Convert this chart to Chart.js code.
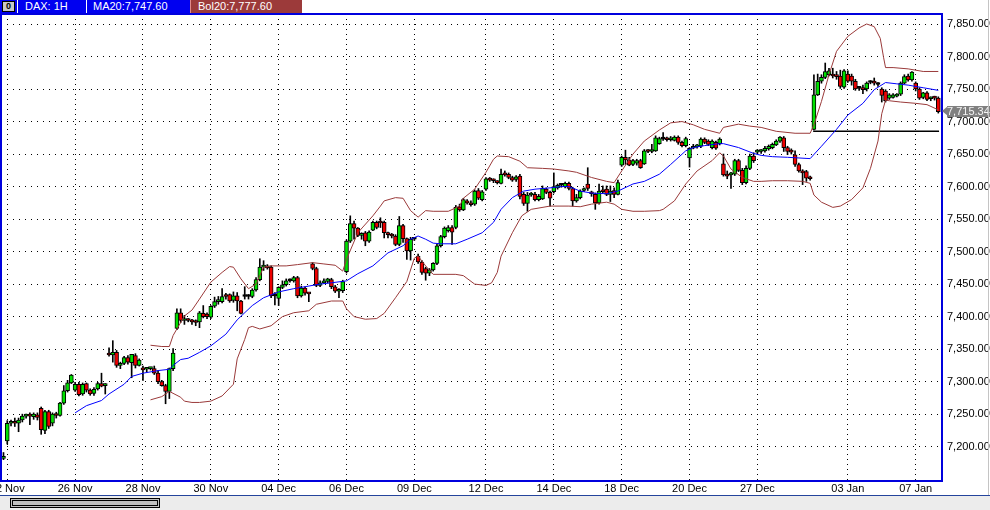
<!DOCTYPE html>
<html lang="en">
<head>
<meta charset="UTF-8">
<title>DAX 1H</title>
<script src="https://cdn.jsdelivr.net/npm/chart.js"></script>
<style>
  body { margin: 0; background: #fff; }
  * { font-family: 'Liberation Sans', Arial, sans-serif; }
  #wrap { position: relative; width: 990px; height: 510px; overflow: hidden; background: #fff; }
  #chart { position: absolute; left: 0; top: 0; }
  .hdr { position: absolute; top: 0; height: 13px; line-height: 13px; font-size: 11px; color: #fff; white-space: nowrap; }
  #bar { left: 0; width: 190px; background: #0000f0; }
  .sep { position: absolute; top: 0; width: 1px; height: 13px; background: #fff; }
  #btn { position: absolute; left: 2px; top: 1px; width: 11px; height: 9px; background: #c8c8c8; border: 1px solid #000;
         color: #000; font-size: 9px; line-height: 9px; text-align: center; font-weight: bold; }
  #bol { left: 190px; width: 104px; padding-left: 7px; background: #9c3a3a; border-left: 1px solid #e08a8a; }
  #tag { position: absolute; left: 947px; top: 106px; width: 43px; height: 11px; background: #808080; color: #f4f4f4;
         font-size: 11px; line-height: 11px; }
  #tagArrow { position: absolute; left: 942px; top: 106px; width: 0; height: 0; border-top: 5.5px solid transparent;
              border-bottom: 5.5px solid transparent; border-right: 6px solid #808080; }
  #foot { position: absolute; left: 0; top: 495px; width: 990px; height: 15px; background: #ececec; border-top: 1px solid #24449c; }
  #thumb { position: absolute; left: 10px; top: 2px; width: 144px; height: 4px; background: #c0c0c0; border: 3px double #000; }
  #edge { position: absolute; left: 988px; top: 0; width: 1px; height: 495px; background: #c4c4c4; }
</style>
</head>
<body>
<div id="wrap">
  <canvas id="chart" width="990" height="510"></canvas>
  <div class="hdr" id="bar">
    <div id="btn">0</div>
    <div class="sep" style="left:17px"></div>
    <span style="position:absolute;left:25px">DAX: 1H</span>
    <div class="sep" style="left:86px"></div>
    <span style="position:absolute;left:93px">MA20:7,747.60</span>
  </div>
  <div class="hdr" id="bol">Bol20:7,777.60</div>
  <div id="tagArrow"></div>
  <div id="tag">7,715.34</div>
  <div id="edge"></div>
  <div id="foot"><div id="thumb"></div></div>
</div>

<script>
// hourly bars, one per index
const opens = [
  7182,7209,7236,7237,7236,7241,7247,7248,7246,7249,
  7259,7225,7254,7236,7249,7248,7267,7286,7298,7287,
  7296,7281,7297,7287,7282,7289,7297,7294,7344,7341,
  7345,7325,7328,7337,7329,7340,7325,7320,7319,7320,
  7320,7313,7300,7294,7285,7320,7382,7406,7394,7395,
  7394,7392,7392,7405,7404,7399,7416,7423,7423,7433,
  7434,7425,7432,7424,7431,7431,7431,7441,7457,7476,
  7478,7476,7432,7428,7445,7449,7455,7455,7460,7432,
  7444,7436,7481,7474,7448,7452,7454,7457,7446,7439,
  7440,7469,7516,7543,7536,7525,7529,7516,7533,7545,
  7545,7545,7529,7526,7524,7511,7540,7520,7501,7519,
  7493,7484,7474,7467,7472,7482,7509,7523,7532,7537,
  7537,7569,7564,7576,7575,7573,7594,7580,7596,7612,
  7610,7607,7605,7619,7619,7614,7611,7616,7588,7574,
  7587,7588,7580,7581,7596,7591,7592,7598,7602,7600,
  7605,7597,7578,7583,7594,7604,7591,7588,7575,7593,
  7596,7588,7594,7588,7633,7645,7641,7634,7636,7640,
  7635,7655,7654,7655,7666,7673,7673,7672,7671,7676,
  7668,7663,7644,7659,7661,7662,7673,7670,7660,7668,
  7666,7635,7619,7618,7619,7640,7625,7606,7628,7647,
  7653,7654,7655,7658,7660,7664,7670,7675,7660,7655,
  7649,7634,7624,7623,7614,7688,7741,7762,7768,7772,
  7773,7770,7770,7753,7773,7770,7762,7751,7752,7750,
  7760,7760,7757,7750,7747,7736,7737,7739,7742,7759,
  7770,7764,7759,7750,7737,7744,7735,7737,7736
];
const highs = [
  7191,7240,7241,7244,7244,7250,7250,7252,7252,7252,
  7261,7256,7256,7252,7253,7268,7294,7302,7311,7299,
  7299,7298,7298,7289,7291,7299,7313,7297,7352,7363,
  7348,7330,7339,7340,7342,7343,7335,7324,7322,7322,
  7324,7317,7302,7296,7321,7351,7412,7412,7402,7397,
  7396,7395,7408,7417,7406,7417,7430,7431,7443,7436,
  7435,7438,7437,7425,7446,7434,7443,7460,7489,7486,
  7480,7478,7437,7446,7455,7458,7458,7462,7462,7447,
  7446,7437,7483,7476,7455,7458,7459,7459,7448,7443,
  7456,7518,7555,7547,7537,7529,7531,7532,7547,7547,
  7552,7547,7530,7528,7526,7554,7542,7521,7522,7520,
  7496,7486,7476,7474,7483,7511,7525,7538,7540,7540,
  7571,7573,7582,7580,7578,7595,7597,7594,7614,7614,
  7612,7609,7627,7624,7621,7616,7617,7619,7591,7591,
  7591,7591,7588,7601,7598,7593,7621,7604,7605,7607,
  7607,7599,7588,7595,7598,7629,7593,7590,7604,7601,
  7601,7601,7598,7610,7647,7656,7645,7642,7642,7642,
  7657,7657,7665,7678,7676,7683,7676,7677,7678,7678,
  7670,7676,7660,7665,7665,7675,7675,7672,7672,7670,
  7675,7650,7624,7622,7642,7642,7628,7632,7650,7652,
  7657,7657,7662,7664,7667,7672,7677,7677,7662,7658,
  7655,7636,7626,7625,7616,7772,7773,7772,7790,7782,
  7782,7777,7779,7780,7778,7773,7765,7754,7756,7761,
  7763,7767,7760,7752,7749,7743,7743,7743,7761,7772,
  7773,7777,7761,7752,7745,7746,7738,7739,7738
];
const lows = [
  7180,7204,7232,7231,7223,7238,7244,7234,7242,7241,
  7219,7220,7228,7232,7244,7247,7265,7284,7297,7285,
  7278,7279,7284,7279,7279,7287,7292,7281,7339,7330,
  7322,7320,7326,7327,7306,7321,7324,7302,7315,7318,
  7311,7297,7293,7266,7274,7317,7380,7391,7388,7392,
  7388,7386,7383,7398,7397,7397,7414,7419,7421,7427,
  7422,7422,7409,7404,7427,7427,7429,7439,7455,7471,
  7473,7429,7418,7417,7443,7447,7453,7453,7429,7430,
  7433,7423,7472,7446,7446,7451,7452,7443,7437,7429,
  7437,7467,7514,7519,7523,7519,7509,7514,7532,7535,
  7537,7521,7521,7521,7509,7509,7514,7488,7487,7517,
  7482,7465,7456,7463,7470,7480,7507,7521,7530,7511,
  7535,7562,7563,7573,7570,7571,7580,7578,7594,7608,
  7606,7604,7604,7616,7612,7608,7608,7581,7571,7562,
  7585,7578,7578,7580,7589,7570,7590,7596,7599,7598,
  7595,7570,7576,7581,7592,7594,7585,7565,7573,7590,
  7586,7577,7583,7587,7631,7634,7632,7632,7633,7628,
  7634,7652,7652,7654,7665,7671,7670,7670,7670,7665,
  7661,7661,7630,7658,7659,7660,7666,7663,7658,7657,
  7664,7616,7612,7597,7617,7623,7603,7604,7626,7637,
  7650,7651,7653,7656,7658,7663,7668,7654,7649,7650,
  7631,7622,7603,7608,7610,7687,7740,7759,7766,7770,
  7767,7765,7751,7751,7760,7756,7748,7748,7743,7747,
  7758,7756,7754,7730,7730,7734,7736,7738,7740,7758,
  7762,7762,7747,7734,7735,7732,7732,7733,7713
];
const closes = [
  7185,7236,7237,7236,7241,7247,7248,7247,7250,7245,
  7226,7254,7231,7250,7248,7267,7286,7298,7310,7296,
  7280,7296,7287,7281,7288,7297,7293,7295,7341,7345,
  7325,7328,7337,7330,7342,7325,7333,7318,7320,7321,
  7313,7300,7294,7285,7320,7344,7406,7394,7395,7394,
  7392,7391,7406,7400,7400,7416,7423,7424,7431,7431,
  7424,7432,7424,7405,7431,7431,7441,7457,7476,7478,
  7475,7432,7432,7445,7449,7455,7455,7460,7432,7444,
  7436,7435,7474,7448,7452,7454,7458,7446,7439,7440,
  7454,7516,7543,7536,7525,7526,7516,7530,7545,7537,
  7544,7529,7526,7524,7511,7540,7520,7501,7519,7519,
  7484,7468,7467,7472,7482,7509,7523,7536,7537,7530,
  7568,7564,7580,7575,7572,7593,7582,7592,7612,7610,
  7609,7606,7619,7618,7614,7610,7615,7585,7574,7587,
  7588,7580,7585,7597,7591,7582,7600,7602,7602,7605,
  7597,7578,7583,7593,7596,7597,7589,7575,7593,7592,
  7588,7593,7588,7606,7645,7641,7633,7640,7640,7629,
  7655,7654,7655,7675,7674,7673,7672,7673,7676,7668,
  7663,7674,7659,7661,7662,7673,7668,7665,7670,7659,
  7673,7618,7616,7619,7640,7625,7606,7628,7647,7640,
  7654,7655,7659,7662,7665,7670,7676,7660,7654,7653,
  7634,7624,7621,7613,7612,7741,7762,7768,7777,7778,
  7770,7769,7754,7778,7762,7762,7750,7751,7749,7759,
  7760,7759,7757,7740,7732,7741,7741,7742,7759,7769,
  7764,7776,7750,7736,7744,7734,7737,7736,7715.34
];

// date labels and the bar they sit on
const dayTicks  = [1, 19, 37, 55, 73, 91, 109, 128, 146, 164, 182, 200, 224, 242];
const dayLabels = ['22 Nov','26 Nov','28 Nov','30 Nov','04 Dec','06 Dec','09 Dec','12 Dec','14 Dec','18 Dec','20 Dec','27 Dec','03 Jan','07 Jan'];
const priceTicks = [7200,7250,7300,7350,7400,7450,7500,7550,7600,7650,7700,7750,7800,7850];

// MA20
const maIdx  = [19,22,26,28,32,34,37,41,44,45,47,49,52,55,59,62,66,69,73,77,80,84,87,91,94,98,100,102,106,108,110,112,114,116,120,123,127,130,132,135,138,141,145,148,150,153,156,160,163,167,170,174,177,181,183,186,190,191,195,199,201,204,208,214,217,221,224,228,231,234,237,240,244,248];
const maVals = [7252,7263,7271,7281,7296,7308,7313,7317,7319,7325,7334,7336,7345,7355,7373,7395,7417,7429,7438,7443,7446,7450,7452,7455,7466,7478,7488,7498,7509,7519,7524,7519,7513,7512,7512,7519,7529,7545,7565,7583,7593,7596,7598,7600,7600,7593,7590,7589,7593,7604,7608,7619,7634,7655,7660,7663,7666,7666,7660,7651,7648,7646,7645,7643,7662,7688,7710,7728,7749,7760,7758,7756,7752,7748];

// Bollinger bands
const upIdx  = [39,42,44,45,47,48,50,52,55,58,60,61,63,65,67,69,71,75,78,82,85,88,90,91,94,98,100,101,104,106,108,110,112,114,118,121,122,125,128,130,131,134,137,139,143,146,150,152,156,160,162,164,167,170,174,177,180,183,186,190,191,195,198,201,205,210,214,215,217,219,221,224,227,229,231,232.6,233.5,234,236,240,244,248];
const upVals = [7356,7354,7354,7371,7391,7401,7410,7427,7453,7468,7477,7476,7458,7443,7450,7476,7478,7478,7480,7483,7481,7479,7470,7488,7529,7555,7570,7578,7583,7582,7563,7553,7563,7562,7562,7570,7582,7596,7622,7642,7647,7646,7639,7629,7628,7627,7624,7622,7614,7608,7606,7624,7650,7670,7687,7698,7700,7695,7688,7682,7691,7696,7693,7691,7685,7682,7682,7695,7731,7772,7808,7831,7844,7850,7846,7828,7798,7783,7783,7781,7777,7777];
const loIdx  = [39,42,44,47,48,50,52,55,58,61,62,64,65,66,68,71,74,77,81,83,87,90,91,93,96,99,101,104,107,109,110,112,114,120,122,125,128,129.5,131,132,135,137.5,140,145,150,153,156,160,162,164,167,170,174,175,178,181,184,188,190,191,193,196,199,201,204,208,212,214,215,217,220,222,225,228,230,232,233,234,235,238,242,245,248];
const loVals = [7272,7277,7285,7276,7270,7268,7268,7270,7278,7296,7335,7365,7383,7385,7381,7386,7400,7406,7409,7419,7424,7424,7412,7400,7396,7397,7405,7429,7454,7490,7493,7478,7465,7465,7463,7450,7448,7452,7468,7493,7529,7555,7565,7570,7570,7569,7573,7576,7573,7565,7562,7562,7563,7565,7578,7604,7624,7640,7652,7647,7627,7614,7608,7608,7609,7609,7608,7605,7587,7576,7568,7570,7580,7598,7628,7670,7712,7733,7732,7730,7728,7726,7718];

// horizontal level after the January gap
const levelIdx = [214.8, 248.2];
const levelVal = 7685;

Chart.defaults.font.family = "'Liberation Sans', Arial, sans-serif";
Chart.defaults.font.size = 11;
Chart.defaults.color = '#000';

const pts = (xs, ys) => xs.map((x, k) => ({ x: x, y: ys[k] }));

const bodies = closes.map((c, i) => ({ x: i, y: [opens[i], c] }));
const wicks  = closes.map((c, i) => ({ x: i, y: [lows[i], highs[i]] }));
const bodyColors = closes.map((c, i) => c > opens[i] ? '#00e000' : (c < opens[i] ? '#ee0000' : '#000'));

const frame = {
    id: 'frame',
    afterDraw(chart) {
        const { ctx, chartArea: a } = chart;
        ctx.save();
        ctx.strokeStyle = '#0000dd';
        ctx.lineWidth = 2;
        ctx.strokeRect(a.left, a.top, a.right - a.left, a.bottom - a.top);
        ctx.restore();
    }
};

new Chart(document.getElementById('chart'), {
    type: 'bar',
    data: {
        datasets: [
            { type: 'line', data: pts(maIdx, maVals), borderColor: '#0000ff', borderWidth: 1, pointRadius: 0, tension: 0, order: 0 },
            { type: 'line', data: pts(upIdx, upVals), borderColor: '#9a3a3a', borderWidth: 1, pointRadius: 0, tension: 0, order: 0 },
            { type: 'line', data: pts(loIdx, loVals), borderColor: '#9a3a3a', borderWidth: 1, pointRadius: 0, tension: 0, order: 0 },
            { type: 'line', data: levelIdx.map(x => ({ x: x, y: levelVal })), borderColor: '#000', borderWidth: 1.5, pointRadius: 0, order: 0 },
            { type: 'bar', data: bodies, backgroundColor: bodyColors, borderColor: '#000', borderWidth: 1,
              borderSkipped: false, barThickness: 4, minBarLength: 2, grouped: false, order: 1 },
            { type: 'bar', data: wicks, backgroundColor: '#000', barThickness: 1, grouped: false, order: 2 }
        ]
    },
    options: {
        responsive: false,
        animation: false,
        layout: { padding: { left: 1, right: 0, top: 14, bottom: 15 } },
        plugins: { legend: { display: false }, tooltip: { enabled: false } },
        scales: {
            x: {
                type: 'linear', min: -0.66, max: 248.98, offset: false,
                afterBuildTicks: s => { s.ticks = dayTicks.map(v => ({ value: v })); },
                afterFit: s => { s.height = 14; s.paddingLeft = 0; s.paddingRight = 0; },
                ticks: { callback: (v, i) => dayLabels[i], autoSkip: false, maxRotation: 0, padding: 1 },
                grid: { offset: false, drawTicks: false, color: '#000' },
                border: { display: false, dash: [1, 4] }
            },
            y: {
                position: 'right', min: 7147.2, max: 7865.4, beginAtZero: false,
                afterBuildTicks: s => { s.ticks = priceTicks.map(v => ({ value: v })); },
                afterFit: s => { s.width = 48; s.paddingTop = 0; s.paddingBottom = 0; },
                ticks: { callback: v => v.toLocaleString('en-US', { minimumFractionDigits: 2, maximumFractionDigits: 2 }), padding: 5 },
                grid: { drawTicks: false, color: '#000' },
                border: { display: false, dash: [1, 5] }
            }
        }
    },
    plugins: [frame]
});
</script>
</body>
</html>
